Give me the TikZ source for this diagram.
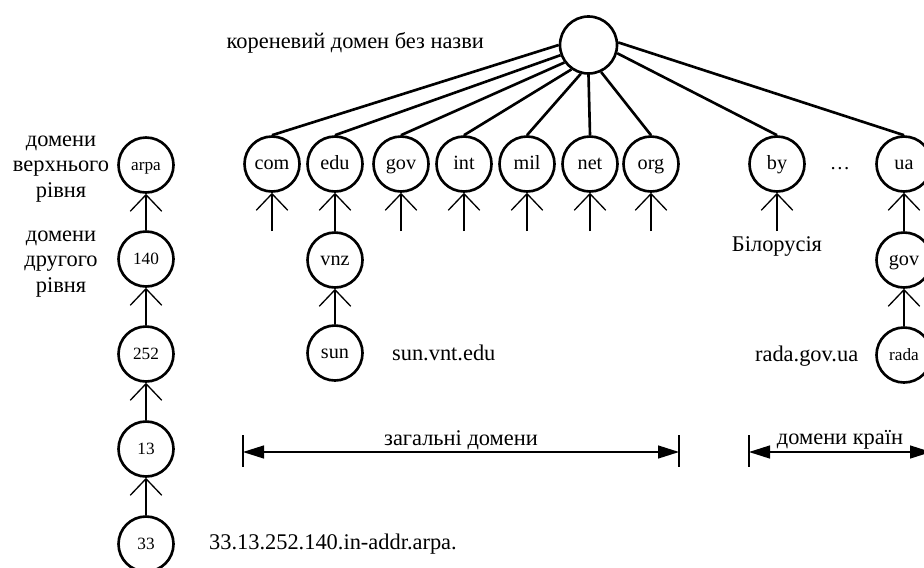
\documentclass[tikz,border=0pt]{standalone}
\usepackage{fontspec}
\setmainfont{Liberation Serif}
\usepackage{tikz}
\usetikzlibrary{arrows.meta, positioning}

\begin{document}
\begin{tikzpicture}[
    kolo/.style={draw, circle, line width=1.5pt, minimum size=1.1cm, inner sep=0pt,
                 text height=1.6ex, text depth=0.2ex, font=\fontsize{11.5}{13}\selectfont},
    kolom/.style={kolo, font=\fontsize{9.8}{11}\selectfont},
    pidp/.style={font=\fontsize{12.75}{14.3}\selectfont, align=center, inner sep=1pt},
    zv/.style={line width=1.5pt},
    vh/.style={-{Straight Barb[length=3.3mm, width=6.3mm]}, line width=0.75pt},
    rozm/.style={{Triangle[length=4.2mm, width=2.6mm]}-{Triangle[length=4.2mm, width=2.6mm]},
                 line width=0.75pt},
    ryska/.style={line width=0.75pt}]
    \useasboundingbox (0,0) rectangle (18.48,-11.34);
    \clip (0,0) rectangle (18.48,-11.34);
    % korin
    \node[kolo, minimum size=1.14cm] (root) at (11.77,-0.9) {};
    \node[pidp, anchor=east] (rootl) at (9.72,-0.86) {кореневий домен без назви};
    % domeny verkhnoho rivnia
    \node[kolo] (com) at (5.44,-3.28)  {com};
    \node[kolo] (edu) at (6.70,-3.28)  {edu};
    \node[kolo] (gov) at (8.02,-3.28)  {gov};
    \node[kolo] (int) at (9.28,-3.28)  {int};
    \node[kolo] (mil) at (10.54,-3.28) {mil};
    \node[kolo] (net) at (11.80,-3.28) {net};
    \node[kolo] (org) at (13.02,-3.28) {org};
    \node[kolo] (by)  at (15.54,-3.28) {by};
    \node[kolo, draw=none] (dots) at (16.80,-3.28) {…};
    \node[kolo] (ua)  at (18.08,-3.28) {ua};
    \draw[zv] (root.180) -- (com.north); \draw[zv] (root.200) -- (edu.north);
    \draw[zv] (root.216) -- (gov.north); \draw[zv] (root.235) -- (int.north);
    \draw[zv] (root.255) -- (mil.north); \draw[zv] (root.south) -- (net.north);
    \draw[zv] (root.295) -- (org.north); \draw[zv] (root.344) -- (by.north);
    \draw[zv] (root.5) -- (ua.north);
    % vkhidni strilky
    \coordinate (comt) at (5.44,-4.62);  \coordinate (govt) at (8.02,-4.62);
    \coordinate (intt) at (9.28,-4.62);  \coordinate (milt) at (10.54,-4.62);
    \coordinate (nett) at (11.80,-4.62); \coordinate (orgt) at (13.02,-4.62);
    \coordinate (byt)  at (15.54,-4.62);
    \draw[vh] (comt) -- (com); \draw[vh] (govt) -- (gov); \draw[vh] (intt) -- (int);
    \draw[vh] (milt) -- (mil); \draw[vh] (nett) -- (net); \draw[vh] (orgt) -- (org);
    \draw[vh] (byt) -- (by);
    \node[pidp] (byl) at (15.54,-4.92) {Білорусія};
    % edu
    \node[kolo] (vnz) at (6.70,-5.2)  {vnz};
    \node[kolo] (sun) at (6.70,-7.06) {sun};
    \draw[vh] (vnz) -- (edu); \draw[vh] (sun) -- (vnz);
    \node[pidp, anchor=west] (sunl) at (7.80,-7.06) {sun.vnt.edu};
    % ua
    \node[kolo]  (uagov) at (18.08,-5.2)  {gov};
    \node[kolom] (rada)  at (18.08,-7.1)  {rada};
    \draw[vh] (uagov) -- (ua); \draw[vh] (rada) -- (uagov);
    \node[pidp, anchor=west] (radal) at (15.06,-7.12) {rada.gov.ua};
    % in-addr.arpa
    \node[kolom] (arpa) at (2.92,-3.3)   {arpa};
    \node[kolom] (n140) at (2.92,-5.18)  {140};
    \node[kolom] (n252) at (2.92,-7.08)  {252};
    \node[kolom] (n13)  at (2.92,-8.98)  {13};
    \node[kolom] (n33)  at (2.92,-10.88) {33};
    \draw[vh] (n140) -- (arpa); \draw[vh] (n252) -- (n140);
    \draw[vh] (n13) -- (n252);  \draw[vh] (n33) -- (n13);
    \node[pidp, anchor=west] (arpal) at (4.14,-10.88) {33.13.252.140.in-addr.arpa.};
    \node[pidp] (rv1) at (1.22,-3.38) {домени\\верхнього\\рівня};
    \node[pidp] (rv2) at (1.22,-5.28) {домени\\другого\\рівня};
    % rozmirni linii
    \coordinate (zl) at (4.86,-9.04);  \coordinate (zr) at (13.58,-9.04);
    \coordinate (kl) at (14.98,-9.04); \coordinate (kr) at (18.62,-9.04);
    \draw[rozm] (zl) -- (zr) node[midway, above, pidp] {загальні домени};
    \draw[rozm] (kl) -- (kr) node[midway, above, pidp] {домени країн};
    \draw[ryska] (4.86,-8.7) -- (4.86,-9.34);
    \draw[ryska] (13.58,-8.7) -- (13.58,-9.34);
    \draw[ryska] (14.98,-8.7) -- (14.98,-9.34);
    \draw[ryska] (18.62,-8.7) -- (18.62,-9.34);
\end{tikzpicture}
\end{document}
